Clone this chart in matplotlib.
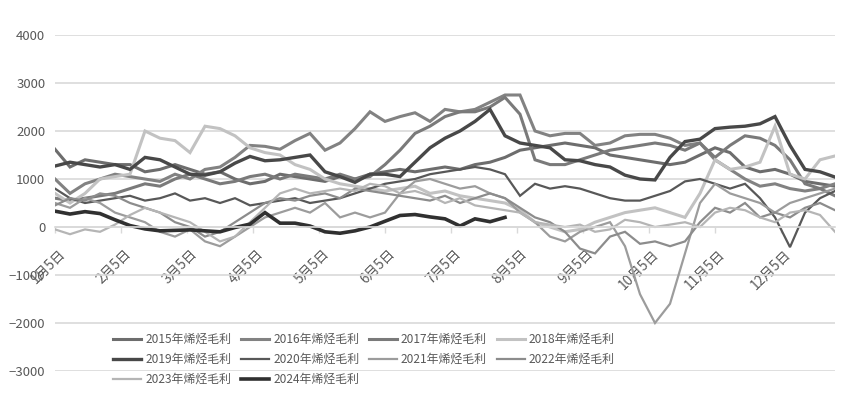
import matplotlib
matplotlib.use("Agg")
import matplotlib.pyplot as plt
from matplotlib.transforms import ScaledTranslation

plt.rcParams['font.family'] = ['Noto Sans CJK SC', 'DejaVu Sans']

# x positions: trading-day index (sampled every 5 trading days)
days = list(range(0, 261, 5))
tick_days = [0, 22, 44, 66, 88, 110, 132, 154, 176, 198, 220, 242]
tick_labels = ["1月5日", "2月5日", "3月5日", "4月5日", "5月5日", "6月5日",
               "7月5日", "8月5日", "9月5日", "10月5日", "11月5日", "12月5日"]

y2015 = [1620, 1250, 1400, 1350, 1300, 1300, 1150, 1200, 1300, 1200, 1100, 1150, 1000,
         900, 950, 1100, 1050, 1000, 950, 1050, 1000, 1100, 1150, 1200, 1150, 1200,
         1250, 1200, 1300, 1350, 1450, 1600, 1650, 1700, 1750, 1700, 1650, 1500, 1450,
         1400, 1350, 1300, 1350, 1500, 1650, 1550, 1250, 1150, 1200, 1100, 950, 900, 850]
y2016 = [1000, 700, 900, 1000, 1100, 1050, 1000, 950, 1100, 1000, 1200, 1250, 1450,
         1700, 1680, 1620, 1800, 1950, 1600, 1750, 2050, 2400, 2200, 2300, 2380, 2200,
         2450, 2400, 2450, 2600, 2750, 2750, 2000, 1900, 1950, 1950, 1700, 1750, 1900,
         1930, 1930, 1850, 1700, 1750, 1400, 1200, 1000, 850, 900, 800, 750, 800, 900]
y2017 = [600, 550, 600, 650, 700, 800, 900, 850, 1000, 1100, 1000, 900, 950,
         1050, 1100, 1000, 1100, 1050, 1000, 1100, 1000, 1050, 1300, 1600, 1950, 2100,
         2300, 2400, 2400, 2500, 2700, 2350, 1400, 1300, 1300, 1400, 1500, 1600, 1650,
         1700, 1750, 1700, 1600, 1750, 1450, 1700, 1900, 1850, 1700, 1400, 900, 800, 650]
y2018 = [700, 500, 700, 1000, 1050, 1100, 2000, 1850, 1800, 1550, 2100, 2050, 1900,
         1650, 1550, 1500, 1300, 1200, 1000, 900, 850, 800, 750, 800, 850, 700,
         750, 650, 600, 550, 500, 350, 100, 0, -100, -50, 100, 200, 300,
         350, 400, 300, 200, 700, 1400, 1200, 1250, 1350, 2100, 1100, 1000, 1400, 1480]
y2019 = [1270, 1350, 1300, 1250, 1300, 1200, 1450, 1400, 1250, 1100, 1080, 1150, 1330,
         1470, 1380, 1400, 1450, 1500, 1150, 1050, 930, 1100, 1100, 1050, 1350, 1650,
         1850, 2000, 2200, 2450, 1900, 1750, 1700, 1650, 1400, 1380, 1300, 1250, 1080,
         1000, 980, 1450, 1780, 1830, 2050, 2080, 2100, 2150, 2300, 1700, 1200, 1150, 1040]
y2020 = [800, 600, 500, 550, 600, 650, 550, 600, 700, 550, 600, 500, 600,
         450, 500, 550, 600, 500, 550, 600, 700, 800, 900, 950, 1000, 1100,
         1150, 1200, 1250, 1200, 1100, 650, 900, 800, 850, 800, 700, 600, 550,
         550, 650, 750, 950, 1000, 900, 800, 900, 600, 200, -420, 300, 600, 750]
y2021 = [500, 400, 600, 500, 300, 200, 100, -100, -200, -50, -300, -400, -200,
         0, 200, 300, 400, 300, 500, 200, 300, 200, 300, 700, 950, 1000,
         900, 800, 850, 700, 600, 300, 100, -200, -300, -100, 0, 100, -400,
         -1400, -2000, -1600, -550, 500, 900, 700, 600, 500, 300, 500, 600, 700, 800]
y2022 = [450, 600, 550, 700, 650, 500, 400, 300, 100, 0, -200, -100, 100,
         300, 500, 600, 550, 650, 700, 600, 800, 750, 700, 650, 600, 550,
         650, 500, 600, 700, 600, 400, 200, 100, -100, -450, -550, -200, -100,
         -350, -300, -400, -300, 100, 400, 300, 500, 200, 300, 200, 400, 500, 350]
y2023 = [-50, -150, -50, -100, 50, 250, 400, 300, 200, 100, -100, -300, -200,
         100, 400, 700, 800, 700, 750, 800, 750, 900, 850, 700, 750, 650,
         500, 600, 450, 400, 350, 300, 100, 50, 0, 50, -100, -50, 150,
         100, 0, 50, 100, 0, 300, 400, 350, 200, 100, 300, 350, 250, -100]
y2024 = [330, 270, 320, 280, 150, 30, -40, -80, -70, -60, -80, -100, -10,
         60, 300, 80, 80, 20, -100, -130, -80, 0, 120, 240, 260, 210,
         170, 20, 170, 110, 200]

series = [
    ("2015年烯烃毛利", y2015, "#6d6d6d", 2.2),
    ("2016年烯烃毛利", y2016, "#828282", 2.2),
    ("2017年烯烃毛利", y2017, "#7a7a7a", 2.2),
    ("2018年烯烃毛利", y2018, "#c2c2c2", 2.2),
    ("2019年烯烃毛利", y2019, "#484848", 2.4),
    ("2020年烯烃毛利", y2020, "#585858", 1.6),
    ("2021年烯烃毛利", y2021, "#9c9c9c", 1.6),
    ("2022年烯烃毛利", y2022, "#8c8c8c", 1.6),
    ("2023年烯烃毛利", y2023, "#b5b5b5", 1.6),
    ("2024年烯烃毛利", y2024, "#303030", 2.6),
]

fig = plt.figure(figsize=(8.51, 3.95), dpi=100)
ax = fig.add_axes([55 / 851, 24 / 395, 780 / 851, 336 / 395])

handles = {}
for label, vals, color, lw in series:
    ln, = ax.plot(days[:len(vals)], vals, color=color, lw=lw, label=label,
                  solid_joinstyle='miter')
    handles[label] = ln

ax.set_xlim(0, 260)
ax.set_ylim(-3000, 4000)
ax.set_yticks([-3000, -2000, -1000, 0, 1000, 2000, 3000, 4000])
ax.yaxis.grid(True, color="#d9d9d9", lw=1.2)
ax.set_axisbelow(True)
for s in ["top", "right", "left"]:
    ax.spines[s].set_visible(False)
ax.spines["bottom"].set_position(("data", 0))
ax.spines["bottom"].set_color("#d9d9d9")
ax.spines["bottom"].set_linewidth(1.2)

ax.set_xticks(tick_days)
ax.set_xticklabels(tick_labels, rotation=45, ha="right", va="top",
                   rotation_mode="anchor")
ax.tick_params(axis="x", colors="#d9d9d9", length=4, width=1, labelcolor="#595959",
               labelsize=9.8, pad=4)
offset = ScaledTranslation(0.03, -0.085, fig.dpi_scale_trans)
for lab in ax.get_xticklabels():
    lab.set_transform(lab.get_transform() + offset)
ax.tick_params(axis="y", length=0, labelcolor="#595959", labelsize=9.5, pad=7)

order = ["2015年烯烃毛利", "2019年烯烃毛利", "2023年烯烃毛利",
         "2016年烯烃毛利", "2020年烯烃毛利", "2024年烯烃毛利",
         "2017年烯烃毛利", "2021年烯烃毛利",
         "2018年烯烃毛利", "2022年烯烃毛利"]
leg = fig.legend([handles[k] for k in order], order, ncol=4, frameon=False,
                 loc="upper left", bbox_to_anchor=(113 / 851, 1 - 333 / 395),
                 bbox_transform=fig.transFigure, fontsize=8.6,
                 handlelength=2.35, columnspacing=0.8, labelspacing=0.58,
                 handletextpad=0.35, borderpad=0.0, borderaxespad=0.0)
for t in leg.get_texts():
    t.set_color("#595959")

fig.savefig("out.png", dpi=100)
